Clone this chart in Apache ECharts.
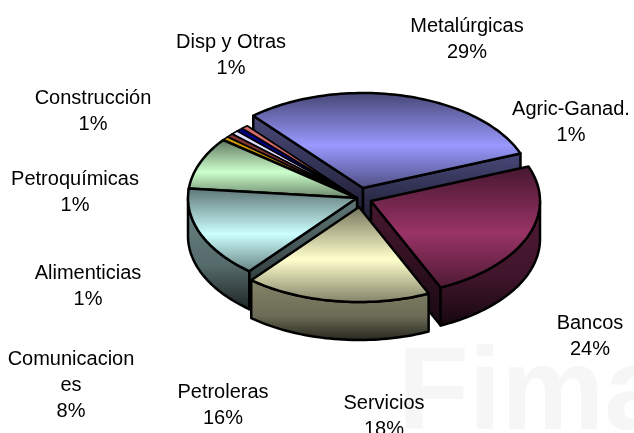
<!DOCTYPE html>
<html>
<head>
<meta charset="utf-8">
<script src="https://cdn.jsdelivr.net/npm/echarts@6/dist/echarts.min.js"></script>
<style>
  html, body { margin: 0; padding: 0; background: #fff; }
  #chart { width: 634px; height: 433px; overflow: hidden; }
</style>
</head>
<body>
<div id="chart"></div>
<script>
    // slices clockwise, starting at the top left edge of Metalúrgicas
    const categories = ['Metalúrgicas', 'Bancos', 'Servicios', 'Petroleras', 'Comunicaciones',
        'Alimenticias', 'Petroquímicas', 'Construcción', 'Disp y Otras', 'Agric-Ganad.'];
    // size of each slice as measured on the drawing (the printed % are rounded differently)
    const shares = [30.4, 24.2, 17.8, 15.6, 8.9, 0.66, 0.66, 0.66, 0.66, 0.66];
    const printed = ['29%', '24%', '18%', '16%', '8%', '1%', '1%', '1%', '1%', '1%'];
    const colors = ['#9999ff', '#993366', '#ffffcc', '#ccffff', '#ccffcc',
        '#cc9900', '#803333', '#ddddff', '#000080', '#d06a6a'];
    // how far each slice is pulled out of the pie, px
    const explodeX = [6, 14, 2, 0, 0, 0, 0, 0, 0, 0];
    const explodeY = [-10, 3, 9, 0, 0, 0, 0, 0, 0, 0];
    // back to front
    const drawOrder = [0, 9, 8, 7, 6, 5, 4, 3, 1, 2];

    const labelNames = ['Metalúrgicas', 'Bancos', 'Servicios', 'Petroleras', 'Comunicacion\nes',
        'Alimenticias', 'Petroquímicas', 'Construcción', 'Disp y Otras', 'Agric-Ganad.'];
    const labelX = [467, 590, 384, 223, 71, 88, 75, 93, 231, 571];
    const labelY = [13, 310, 390, 379, 346, 260, 166, 85, 29, 96];

    const cx = 357, cy = 198, rx = 169, ry = 95, depth = 38, startAngle = -40.5;

    let chart = echarts.init(document.getElementById('chart'), null, {renderer: 'canvas'});

    function shade(hex, k) {
        let n = parseInt(hex.slice(1), 16);
        let c = [n >> 16, (n >> 8) & 255, n & 255].map(v => Math.round(v * k));
        return 'rgb(' + c.join(',') + ')';
    }

    function grad(stops) {
        return new echarts.graphic.LinearGradient(0, 0, 0, 1, stops.map((s) => ({offset: s[0], color: s[1]})));
    }

    const total = shares.reduce((a, b) => a + b, 0);
    let cum = 0;
    const angles = shares.map((v) => {
        let a0 = startAngle + cum / total * 360;
        cum += v;
        return [a0, startAngle + cum / total * 360];
    });

    function renderSlice(params, api) {
        let i = params.dataIndex;
        let [a0, a1] = angles[i];
        let ox = cx + explodeX[i], oy = cy + explodeY[i];
        let color = colors[i];
        let rank = drawOrder.indexOf(i) * 10;
        let pt = (deg, drop) => {
            let r = deg * Math.PI / 180;
            return [ox + rx * Math.sin(r), oy - ry * Math.cos(r) + (drop || 0)];
        };
        let arc = (from, to, drop) => {
            let out = [], n = Math.max(2, Math.ceil((to - from) / 1.5));
            for (let k = 0; k <= n; k++) out.push(pt(from + (to - from) * k / n, drop));
            return out;
        };
        let children = [];
        let thin = shares[i] < 2;
        let line = {stroke: '#000', lineWidth: thin ? 1.6 : 2.5, lineJoin: 'round'};

        // cut walls, only the ones turned towards the viewer
        [a0, a1].forEach((a, j) => {
            let s = Math.sin(a * Math.PI / 180);
            if ((j === 0 && s >= 0) || (j === 1 && s <= 0)) return;
            let p = pt(a);
            children.push({
                type: 'polygon', z2: rank + j,
                shape: {points: [[ox, oy], p, [p[0], p[1] + depth], [ox, oy + depth]]},
                style: Object.assign({fill: grad([[0, shade(color, 0.48)], [1, shade(color, 0.16)]])}, line)
            });
        });
        // outer wall, only the front half of the rim shows
        let w0 = Math.max(a0, 90), w1 = Math.min(a1, 270);
        if (w1 > w0) {
            children.push({
                type: 'polygon', z2: rank + 3,
                shape: {points: arc(w0, w1, 0).concat(arc(w0, w1, depth).reverse())},
                style: Object.assign({fill: grad([[0, shade(color, 0.52)], [0.6, shade(color, 0.42)], [1, shade(color, 0.14)]])}, line)
            });
        }
        // top face
        children.push({
            type: 'polygon', z2: rank + 5,
            shape: {points: [[ox, oy]].concat(arc(a0, a1, 0))},
            style: Object.assign({fill: thin ? color : grad([
                [0, shade(color, 0.45)], [0.55, color], [1, shade(color, 0.5)]
            ])}, line)
        });
        return {type: 'group', children: children};
    }

    let labels = categories.map((name, i) => ({
        type: 'text', z: 5, x: labelX[i], y: labelY[i],
        style: {
            text: labelNames[i] + '\n' + printed[i],
            fontFamily: 'Liberation Sans', fontSize: 20, lineHeight: 26,
            fill: '#000', align: 'center', verticalAlign: 'top'
        }
    }));

    let option = {
        backgroundColor: '#fff',
        animation: false,
        graphic: [{
            type: 'text', z: 0, x: 398, y: 455,
            style: {
                text: 'Fima', fontFamily: 'Liberation Sans', fontWeight: 'bold', fontSize: 116,
                fill: '#f6f6f6', align: 'left', verticalAlign: 'bottom'
            }
        }].concat(labels),
        series: [{
            type: 'custom',
            coordinateSystem: 'none',
            silent: true,
            renderItem: renderSlice,
            data: categories.map((name, i) => ({name: name, value: shares[i]}))
        }]
    };
    chart.setOption(option);
</script>
</body>
</html>
